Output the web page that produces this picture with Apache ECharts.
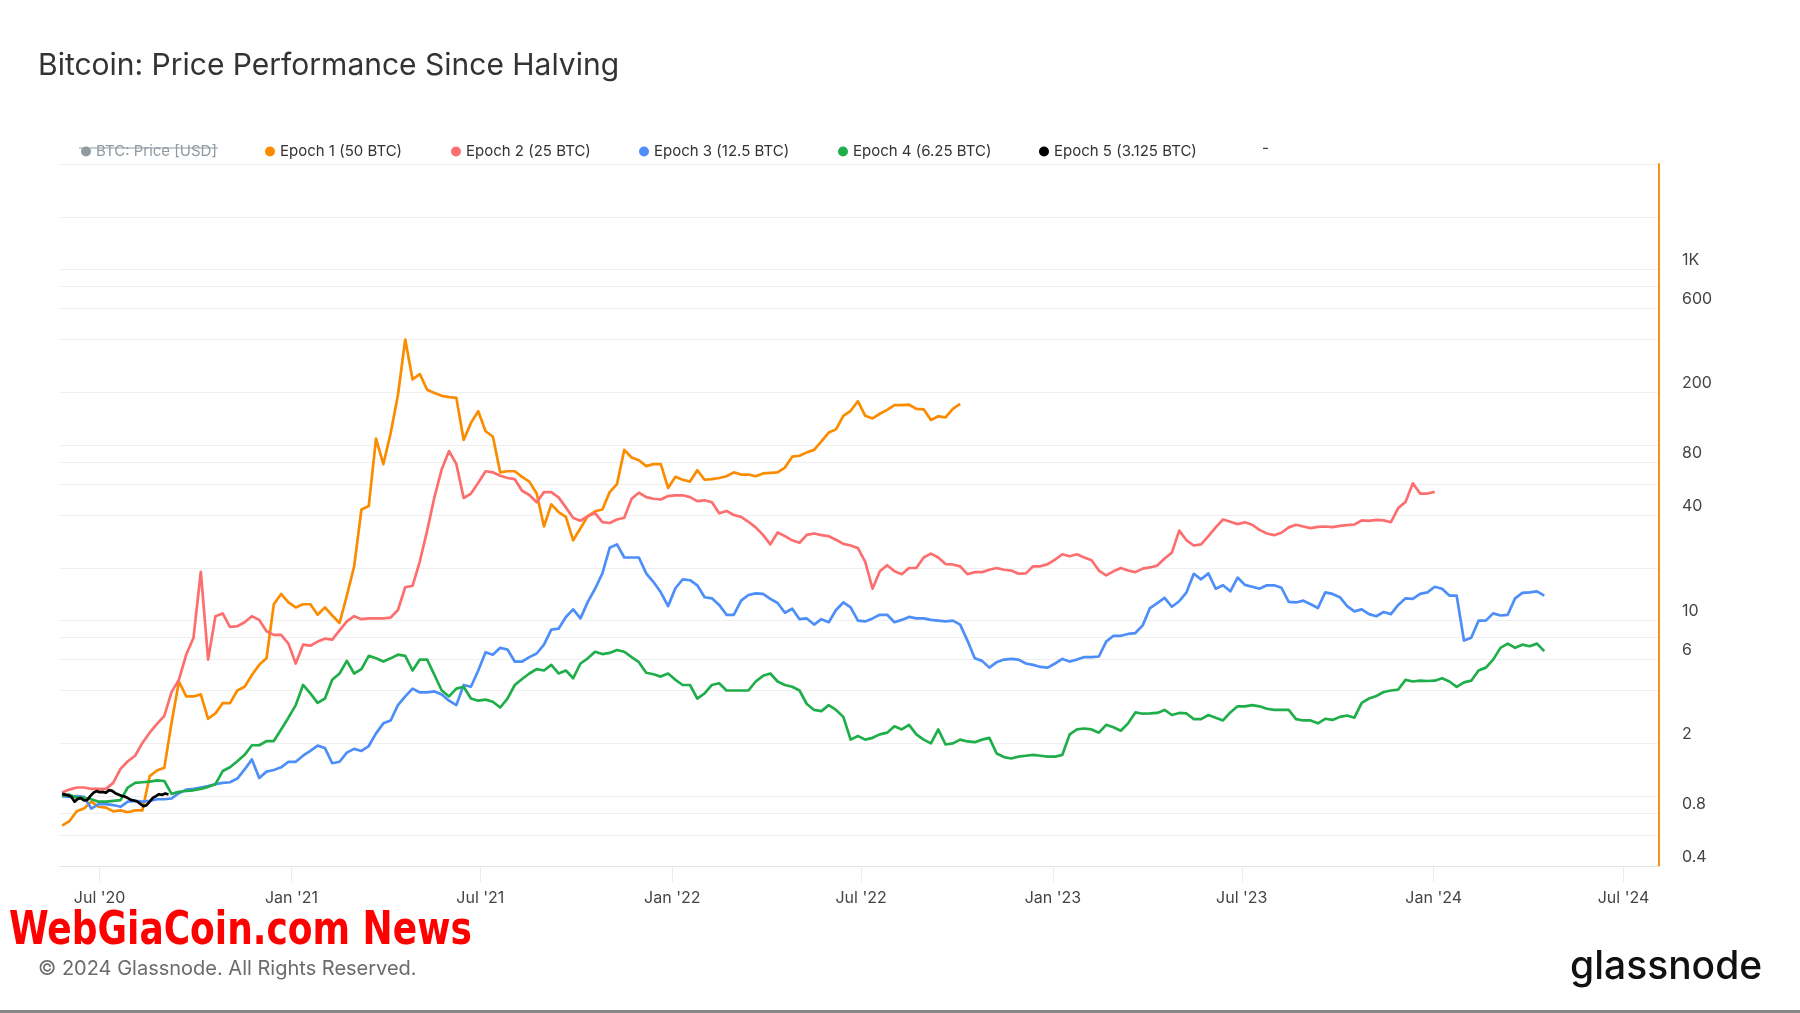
<!DOCTYPE html>
<html>
<head>
<meta charset="utf-8">
<script src="https://cdn.jsdelivr.net/npm/echarts@6/dist/echarts.min.js"></script>
<style>
html,body{margin:0;padding:0;background:#fff;}
#chart{width:1800px;height:1013px;}
</style>
</head>
<body>
<div id="chart"></div>
<script>
// ---------- DATA ----------
const seriesNames = ['BTC: Price [USD]', 'Epoch 1 (50 BTC)', 'Epoch 2 (25 BTC)', 'Epoch 3 (12.5 BTC)', 'Epoch 4 (6.25 BTC)', 'Epoch 5 (3.125 BTC)'];
const dataStart = '2020-05-26';   // first sample date on the chart's date axis
const stepDays = 7;               // sampling step for epochs 1-4 (days)
const stepDaysEpoch5 = 3;         // sampling step for epoch 5 (days)

const epoch1 = [0.68,0.72,0.82,0.85,0.93,0.87,0.86,0.82,0.83,0.81,0.83,0.83,
  1.3,1.4,1.45,2.63,4.5,3.7,3.7,3.8,2.76,2.96,3.39,3.39,
  4.0,4.2,4.9,5.6,6.1,12.4,14.2,12.7,11.9,12.4,12.4,10.8,
  11.9,10.7,9.7,13.9,20.4,43,45,109,78,117,193,400,
  237,254,207,198,191,188,186,107,
  134,156,120,112,70,71,71,66,62,53,34.4,46,
  41.6,39,28.7,33.6,39.4,42,43,54,60,94,85,82,
  76,78,78,57,66,63.5,62,72,63.5,64,65,66.5,
  70,68,68,66.5,69,69.5,70,74.5,86,87,91,94,
  105,118,123,147,157,178,147,142,
  151,159,169,169,170,161,160,139,146,144,161,172];

const epoch2 = [1.05,1.09,1.12,1.12,1.10,1.10,1.10,1.19,1.43,1.58,1.70,2.01,
  2.30,2.58,2.87,3.93,4.6,6.4,8.0,19,6.0,10.6,11.0,9.2,
  9.3,9.8,10.6,10.1,8.7,8.3,8.3,7.4,5.7,7.3,7.2,7.6,
  7.9,7.8,8.8,9.9,10.6,10.2,10.3,10.3,10.3,10.4,11.5,15.5,
  15.8,21.8,32.6,50.6,73,92.5,78,50,
  53,61,71,70,67,65,64,55,52,47.3,54,54,
  50.4,44.2,38.5,37.1,39.4,41,36.4,36,37.7,38.6,49.5,53.6,
  50.6,49.5,49,51.3,51.8,51.8,50.6,48,48.5,47.3,40.9,42.2,
  40,39,36.6,34,30.8,27.2,31.8,30.3,28.7,27.8,30.8,31.4,
  30.7,30.3,28.9,27.4,26.8,25.9,21.6,15.2,
  19.1,20.7,19.1,18.4,19.95,19.95,22.9,24.1,22.9,21.0,20.9,20.4,
  18.4,18.9,18.9,19.5,19.95,19.5,19.3,18.5,18.6,20.4,20.4,21.0,
  22.3,23.9,23.3,23.9,22.9,22.1,19.3,18.1,19.1,19.95,19.3,18.9,
  19.8,20.1,20.6,22.6,24.4,32.6,28.7,26.8,27.2,30.3,34.0,37.7,
  36.6,35.5,36.4,35.2,32.9,31.4,30.7,31.7,
  34,35.2,34.4,33.7,34.2,34.4,34.1,34.7,35,35.3,37.3,37,
  37.5,37.3,36.4,43.8,47.5,60.6,53,53,54.2];

const epoch3 = [1.0,0.99,1.0,0.99,0.85,0.9,0.9,0.89,0.87,0.93,0.94,0.93,
  0.94,0.96,0.96,0.97,1.04,1.09,1.1,1.12,1.14,1.17,1.19,1.2,
  1.26,1.42,1.62,1.27,1.38,1.41,1.46,1.57,1.57,1.70,1.81,1.94,
  1.88,1.54,1.57,1.77,1.86,1.81,1.93,2.28,2.6,2.7,3.3,3.7,
  4.1,3.9,3.9,3.95,3.8,3.5,3.3,4.3,
  4.2,5.2,6.6,6.4,7.0,6.85,5.85,5.85,6.2,6.5,7.3,8.9,
  9.0,10.5,11.6,10.3,12.8,15.2,18.6,26,27.2,22.9,22.9,22.9,
  18.6,16.6,14.5,12.1,15.3,17.2,17.0,15.9,13.6,13.4,12.3,10.8,
  10.8,13,14.0,14.3,14.2,13.3,12.6,11.1,11.7,10.2,10.3,9.5,
  10.2,9.8,11.5,12.7,11.9,10.0,9.9,10.3,
  10.8,10.8,9.8,10.1,10.5,10.3,10.3,10.1,10.0,9.9,10.0,9.5,
  7.7,6.1,5.9,5.4,5.8,6.0,6.05,6.0,5.7,5.6,5.45,5.4,
  5.7,6.05,5.85,6.0,6.2,6.2,6.25,7.6,8.2,8.2,8.4,8.5,
  9.4,11.8,12.6,13.5,12.0,12.9,14.5,18.5,17.2,18.6,15.2,15.9,
  14.7,17.6,16.0,15.6,15.2,15.9,15.9,15.4,
  12.8,12.7,13.0,12.4,11.8,14.5,14.2,13.6,12.1,11.3,11.6,10.9,
  10.6,11.2,10.9,12.3,13.4,13.3,14.2,14.5,15.6,15.2,13.9,13.9,
  7.7,8.0,10.0,10.0,11.0,10.7,10.8,13.4,14.4,14.5,14.7,13.9];

const epoch4 = [1.0,1.02,0.98,0.98,0.96,0.93,0.93,0.94,0.95,1.12,1.19,1.2,
  1.21,1.23,1.22,1.03,1.06,1.07,1.08,1.1,1.13,1.17,1.39,1.46,
  1.58,1.72,1.95,1.95,2.06,2.06,2.4,2.8,3.3,4.3,3.85,3.4,
  3.6,4.6,5.0,5.9,5.0,5.3,6.3,6.1,5.85,6.1,6.4,6.3,
  5.2,6.0,6.0,4.9,4.0,3.7,4.1,4.2,
  3.6,3.5,3.55,3.45,3.2,3.6,4.3,4.65,5.0,5.3,5.2,5.6,
  5.0,5.2,4.7,5.7,6.1,6.65,6.45,6.55,6.8,6.65,6.2,5.8,
  5.05,4.95,4.8,5.0,4.6,4.3,4.3,3.6,3.85,4.3,4.4,4.0,
  4.0,4.0,4.0,4.5,4.85,5.0,4.5,4.3,4.2,4.0,3.35,3.1,
  3.05,3.3,3.1,2.83,2.1,2.2,2.1,2.15,
  2.25,2.3,2.5,2.4,2.55,2.25,2.1,2.0,2.4,1.97,2.0,2.1,
  2.05,2.03,2.1,2.15,1.75,1.67,1.64,1.68,1.7,1.72,1.7,1.68,
  1.68,1.72,2.25,2.4,2.43,2.4,2.3,2.55,2.47,2.36,2.6,3.0,
  2.95,2.96,2.98,3.1,2.9,2.98,2.96,2.75,2.75,2.9,2.8,2.7,
  3.0,3.25,3.25,3.3,3.25,3.15,3.1,3.1,
  3.1,2.75,2.7,2.7,2.6,2.76,2.72,2.83,2.88,2.8,3.4,3.6,
  3.72,3.92,4.0,4.05,4.6,4.5,4.55,4.53,4.55,4.7,4.5,4.2,
  4.45,4.55,5.2,5.4,6.0,7.0,7.4,7.0,7.3,7.15,7.4,6.7];

const epoch5 = [1.03,1.02,1.01,0.99,0.93,0.965,0.974,0.945,0.949,1.0,1.045,1.068,
  1.054,1.058,1.045,1.082,1.072,1.04,1.022,1.004,0.996,0.974,0.953,0.945,
  0.932,0.904,0.877,0.888,0.932,0.978,1.0,1.026,1.018,1.035,1.022];

const xAxisMin = '2020-05-24';
const xAxisMax = '2024-08-04';
const xTickDates = ['2020-07-01','2021-01-01','2021-07-01','2022-01-01','2022-07-01','2023-01-01','2023-07-01','2024-01-01','2024-07-01'];
const xTickLabels = ["Jul '20","Jan '21","Jul '21","Jan '22","Jul '22","Jan '23","Jul '23","Jan '24","Jul '24"];

const yMin = 0.4, yMax = 4000;
const yGridValues = [0.4,0.6,0.8,1,2,4,6,8,10,20,40,60,80,100,200,400,600,800,1000,2000,4000];
const yLabelValues = [0.4,0.8,2,6,10,40,80,200,600,1000];

const colors = ['#8f9aa1', '#fb8c00', '#fd6f6f', '#4d8ef8', '#1fae4a', '#000000'];

// ---------- BUILD ----------
const DAY = 86400000;
function ts(s){ const p = s.split('-').map(Number); return Date.UTC(p[0], p[1]-1, p[2]); }
// x axis counts days from xAxisMin (a date scale expressed in days)
function dayOf(s){ return Math.round((ts(s) - ts(xAxisMin)) / DAY); }
function toSeries(vals, step){ const d0 = dayOf(dataStart); return vals.map((v,i)=>[d0 + i*step, v]); }

const tickDays = xTickDates.map(dayOf);
const FONT = 'Inter, "Noto Sans", sans-serif';

const chart = echarts.init(document.getElementById('chart'), null, {renderer:'canvas'});

const lineSeries = (name, data, color, z) => ({
  name, type:'line', data, showSymbol:false, symbol:'none', z: z,
  lineStyle:{width:2.7, color, join:'round'}, itemStyle:{color}, emphasis:{disabled:true}, animation:false
});

const legendLefts = [76, 260, 446, 634, 833, 1034];
const legends = seriesNames.map((n,i)=>({
  data:[n], left: legendLefts[i], top: 139, icon:'circle', itemWidth:10, itemHeight:10,
  itemGap: 5, inactiveColor:'#8f9aa1',
  selected: i===0 ? {[n]: false} : {[n]: true},
  textStyle:{fontSize:15, color: i===0 ? '#8f9aa1' : '#333', fontFamily: FONT}
}));

chart.setOption({
  animation:false,
  backgroundColor:'#ffffff',
  color: colors,
  title:{
    text:'Bitcoin: Price Performance Since Halving',
    left:33, top:46,
    textStyle:{fontSize:30, fontWeight:'normal', color:'#333', fontFamily: FONT}
  },
  legend: legends,
  grid:{left:60, right:141, top:164, bottom:147, outerBoundsMode:'none', containLabel:false},
  xAxis:{
    type:'value', min: 0, max: dayOf(xAxisMax),
    axisLine:{show:true, onZero:false, lineStyle:{color:'#e4e4e4', width:1}},
    axisTick:{show:true, length:16, lineStyle:{color:'#ececec'}, customValues: tickDays},
    axisLabel:{customValues: tickDays, margin:24, fontSize:16, color:'#444', fontFamily: FONT,
      formatter: v => { const i = tickDays.indexOf(v); return i>=0 ? xTickLabels[i] : ''; }},
    splitLine:{show:false}
  },
  yAxis:{
    type:'log', logBase:10, position:'right', min:yMin, max:yMax,
    axisLine:{show:true, onZero:false, lineStyle:{color:'#f7931a', width:2}},
    axisTick:{show:false, customValues: yGridValues},
    splitLine:{show:true, lineStyle:{color:'#efefef', width:1}},
    axisLabel:{customValues: yLabelValues, margin:23, fontSize:16, color:'#444', fontFamily: FONT,
      verticalAlign:'bottom', padding:[0,0,1,0],
      formatter: v => v>=1000 ? (v/1000)+'K' : String(v)}
  },
  series:[
    lineSeries(seriesNames[0], [], colors[0], 1),
    lineSeries(seriesNames[1], toSeries(epoch1, stepDays), colors[1], 2),
    lineSeries(seriesNames[2], toSeries(epoch2, stepDays), colors[2], 3),
    lineSeries(seriesNames[3], toSeries(epoch3, stepDays), colors[3], 4),
    lineSeries(seriesNames[4], toSeries(epoch4, stepDays), colors[4], 5),
    lineSeries(seriesNames[5], toSeries(epoch5, stepDaysEpoch5), colors[5], 6)
  ],
  graphic:[
    {type:'line', shape:{x1:79, y1:148, x2:218, y2:148}, style:{stroke:'#8f9aa1', lineWidth:1.2}, z:100},
    {type:'text', x:1262, y:148, style:{text:'-', font:'15px '+FONT, fill:'#333', verticalAlign:'middle'}},
    {type:'text', x:9, y:932, scaleX:0.87, style:{text:'WebGiaCoin.com News', font:'bold 46px "Liberation Sans Narrow", "DejaVu Sans Condensed", sans-serif', fill:'#ff0000', verticalAlign:'middle'}},
    {type:'text', x:38, y:969, style:{text:'© 2024 Glassnode. All Rights Reserved.', font:'20px '+FONT, fill:'#6b6b6b', verticalAlign:'middle'}},
    {type:'text', x:1570, y:967, style:{text:'glassnode', font:'500 39px '+FONT, fill:'#111', verticalAlign:'middle'}},
    {type:'rect', shape:{x:0, y:1010, width:1800, height:3}, style:{fill:'#858585'}}
  ]
});
</script>
</body>
</html>
